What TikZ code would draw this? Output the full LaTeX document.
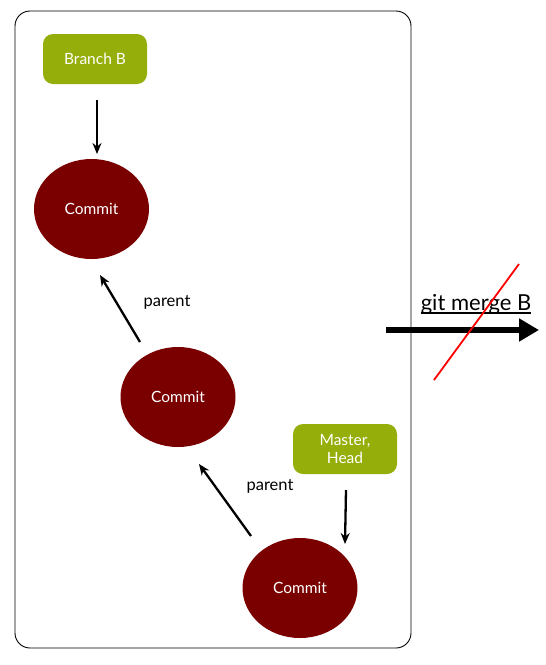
\documentclass[tikz,border=0pt]{standalone}
\usepackage{fontspec}
\setmainfont{Lato}
\usetikzlibrary{shapes.geometric,arrows.meta}
\definecolor{commitred}{RGB}{122,0,0}
\definecolor{branchgreen}{RGB}{150,174,10}
\tikzset{
  commit/.style={ellipse,fill=commitred,minimum width=115pt,minimum height=100pt,inner sep=0pt,text=white,font=\fontsize{15.5}{17}\selectfont},
  label box/.style={rounded corners=10pt,fill=branchgreen,minimum width=104pt,minimum height=50pt,text=white,align=center,font=\fontsize{15.5}{18}\selectfont},
  conn/.style={-{Stealth[length=11pt,width=9pt]},line width=2.3pt},
  lbl/.style={font=\fontsize{16.5}{18}\selectfont}
}
\begin{document}
\begin{tikzpicture}[x=1pt,y=-1pt]
\useasboundingbox (0,0) rectangle (546,665);
\node[draw,line width=0.9pt,rounded corners=15pt,minimum width=396pt,minimum height=637pt,inner sep=0pt] (frame) at (213,329.5) {};
\node[label box] (branch) at (95,59) {Branch B};
\node[label box] (master) at (345,449) {Master,\\Head};
\node[commit] (c1) at (91.5,209) {Commit};
\node[commit] (c2) at (178,397) {Commit};
\node[commit] (c3) at (300,588) {Commit};
\coordinate (b1s) at (97,100);
\coordinate (b1e) at (97,154);
\draw[conn] (b1s) -- (b1e);
\coordinate (m1s) at (346,490);
\coordinate (m1e) at (345,544);
\draw[conn] (m1s) -- (m1e);
\coordinate (p1s) at (140,342);
\coordinate (p1e) at (100,275);
\draw[conn] (p1s) -- (p1e);
\coordinate (p2s) at (251,536);
\coordinate (p2e) at (199,464);
\draw[conn] (p2s) -- (p2e);
\node[lbl] (par1) at (167,302) {parent};
\node[lbl] (par2) at (270,486) {parent};
\node[font=\fontsize{22}{24}\selectfont,inner sep=0pt] (merge) at (476,304) {git merge B};
\draw[line width=1.2pt] ([yshift=-3pt]merge.base west) -- ([yshift=-3pt]merge.base east);
\coordinate (ms) at (386,330);
\coordinate (me) at (539,330);
\draw[line width=6pt,-{Triangle[length=20pt,width=22pt]}] (ms) -- (me);
\coordinate (r1) at (434,380);
\coordinate (r2) at (519,264);
\draw[red,line width=1.8pt] (r1) -- (r2);
\end{tikzpicture}
\end{document}
